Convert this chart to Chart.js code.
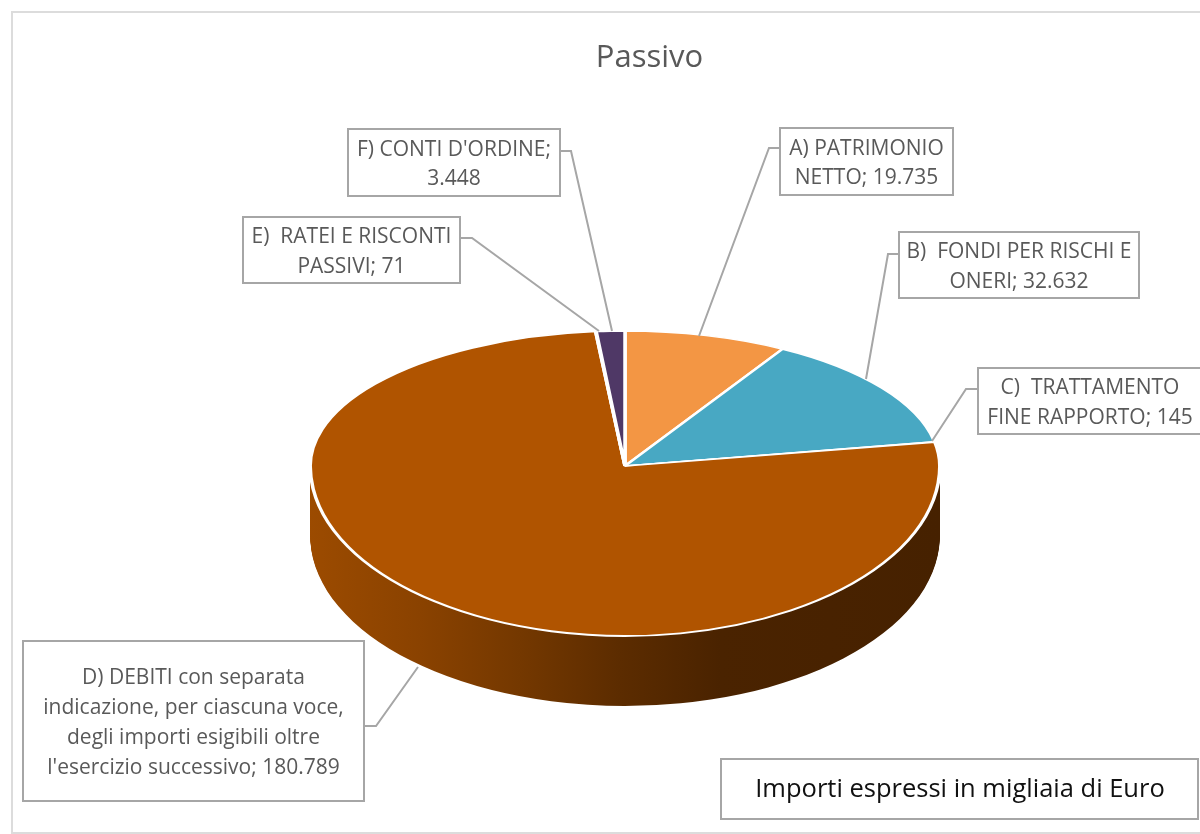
<!DOCTYPE html>
<html lang="it">
<head>
<meta charset="utf-8">
<title>Passivo</title>
<script src="https://cdn.jsdelivr.net/npm/chart.js@4/dist/chart.umd.js"></script>
<style>
  html, body { margin: 0; padding: 0; background: #fff; }
  canvas { display: block; }
</style>
</head>
<body>
<canvas id="chart-passivo" width="1200" height="834"></canvas>
<script>
// dati
const categories = [
  ['A) PATRIMONIO', 'NETTO; '],
  ['B)  FONDI PER RISCHI E', 'ONERI; '],
  ['C)  TRATTAMENTO', 'FINE RAPPORTO; '],
  ['D) DEBITI con separata', 'indicazione, per ciascuna voce,', 'degli importi esigibili oltre', "l'esercizio successivo; "],
  ['E)  RATEI E RISCONTI', 'PASSIVI; '],
  ["F) CONTI D'ORDINE;", '']
];
const values = [19735, 32632, 145, 180789, 71, 3448];
const sliceColors = ['#f39644', '#48a8c3', '#7f9f4a', '#b05400', '#7a5a96', '#4f3866'];
const chartTitle = 'Passivo';
const noteText = 'Importi espressi in migliaia di Euro';

// riquadri delle etichette: x, y, w, h e percorso della linea guida
const callouts = [
  { box: [780, 128, 173, 67],  line: [[780, 148], [769, 148], [699, 336]] },
  { box: [899, 232, 240, 66],  line: [[899, 254], [888, 254], [866, 379]] },
  { box: [978, 368, 224, 66],  line: [[978, 389], [966, 389], [932, 441]] },
  { box: [23, 641, 341, 160],  line: [[364, 726], [376, 726], [418, 667]] },
  { box: [243, 217, 217, 66],  line: [[460, 238], [472, 238], [599, 331]] },
  { box: [348, 129, 212, 67],  line: [[560, 151], [571, 151], [612, 331]] }
];

// finta prospettiva della torta
const pie = { x: 625, apexY: 466, topRy: 135, bottomRy: 170, depth: 70 };
const sideStops = [
  [309, '#9c4b00'], [420, '#8a4200'], [520, '#743800'],
  [620, '#5c2c00'], [720, '#4a2300'], [941, '#462100']
];

const LABEL_FONT = '21px "Open Sans"';
const GREY_TEXT = '#595959';
const GREY_LINE = '#a6a6a6';

function drawHalf(chart, arcs, apexY, ry, clipY, clipH) {
  const ctx = chart.ctx;
  const first = arcs[0];
  ctx.save();
  ctx.beginPath();
  ctx.rect(0, clipY, chart.width, clipH);
  ctx.clip();
  ctx.translate(pie.x, apexY);
  ctx.scale(1, ry / first.outerRadius);
  ctx.translate(-first.x, -first.y);
  arcs.forEach(a => a.draw(ctx));
  ctx.restore();
}

const pie3d = {
  id: 'pie3d',
  // la torta la disegniamo noi, schiacciata, con il bordo sotto
  beforeDatasetDraw(chart, args) {
    const arcs = chart.getDatasetMeta(args.index).data;
    const ctx = chart.ctx;
    const shift = arcs[0].x - pie.x;
    const grad = ctx.createLinearGradient(sideStops[0][0] + shift, 0, sideStops[sideStops.length - 1][0] + shift, 0);
    sideStops.forEach(s => grad.addColorStop((s[0] - sideStops[0][0]) / (sideStops[sideStops.length - 1][0] - sideStops[0][0]), s[1]));

    const saved = arcs.map(a => ({ bg: a.options.backgroundColor, bw: a.options.borderWidth }));
    arcs.forEach(a => { a.options.backgroundColor = grad; a.options.borderWidth = 0; });
    for (let dy = pie.depth; dy > 0; dy--) {
      const y = pie.apexY + dy;
      drawHalf(chart, arcs, y, pie.bottomRy, y, chart.height - y);
    }
    arcs.forEach((a, i) => { a.options.backgroundColor = saved[i].bg; a.options.borderWidth = saved[i].bw; });

    drawHalf(chart, arcs, pie.apexY, pie.topRy, 0, pie.apexY);
    drawHalf(chart, arcs, pie.apexY, pie.bottomRy, pie.apexY, chart.height - pie.apexY);
    return false;
  },
  afterDraw(chart) {
    const ctx = chart.ctx;
    ctx.save();

    // cornice del grafico
    ctx.strokeStyle = '#dcdcdc';
    ctx.lineWidth = 2;
    ctx.beginPath();
    ctx.moveTo(1200, 12);
    ctx.lineTo(12, 12);
    ctx.lineTo(12, 833);
    ctx.lineTo(1200, 833);
    ctx.stroke();

    ctx.textAlign = 'center';
    ctx.textBaseline = 'middle';
    callouts.forEach((c, i) => {
      ctx.strokeStyle = GREY_LINE;
      ctx.lineWidth = 2;
      ctx.beginPath();
      c.line.forEach((p, j) => j ? ctx.lineTo(p[0], p[1]) : ctx.moveTo(p[0], p[1]));
      ctx.stroke();

      const [x, y, w, h] = c.box;
      ctx.fillStyle = '#fff';
      ctx.fillRect(x, y, w, h);
      ctx.strokeRect(x, y, w, h);

      const lines = categories[i].slice();
      lines[lines.length - 1] += values[i].toLocaleString('it-IT');
      const lh = 29.7;
      const startY = y + h / 2 + 2 - (lines.length - 1) * lh / 2;
      ctx.font = LABEL_FONT;
      ctx.fillStyle = GREY_TEXT;
      lines.forEach((t, j) => ctx.fillText(t, x + w / 2, startY + j * lh));
    });

    // nota in basso a destra
    ctx.strokeStyle = GREY_LINE;
    ctx.fillStyle = '#fff';
    ctx.fillRect(721, 759, 477, 60);
    ctx.strokeRect(721, 759, 477, 60);
    ctx.font = '25.5px "Open Sans"';
    ctx.fillStyle = '#111';
    ctx.fillText(noteText, 960, 790);
    ctx.restore();
  }
};

new Chart(document.getElementById('chart-passivo'), {
  type: 'pie',
  data: {
    labels: categories.map(c => c.join(' ')),
    datasets: [{
      data: values,
      backgroundColor: sliceColors,
      borderColor: '#ffffff',
      borderWidth: 3.5
    }]
  },
  options: {
    responsive: false,
    animation: false,
    layout: { padding: { left: 333, right: 234, top: 0, bottom: 0 } },
    plugins: {
      legend: { display: false },
      tooltip: { enabled: false },
      title: {
        display: true,
        text: chartTitle,
        fullSize: false,
        color: GREY_TEXT,
        font: { family: '"Open Sans"', size: 31, weight: 'normal' },
        padding: { top: 40, bottom: 0 }
      }
    }
  },
  plugins: [pie3d]
});
</script>
</body>
</html>
